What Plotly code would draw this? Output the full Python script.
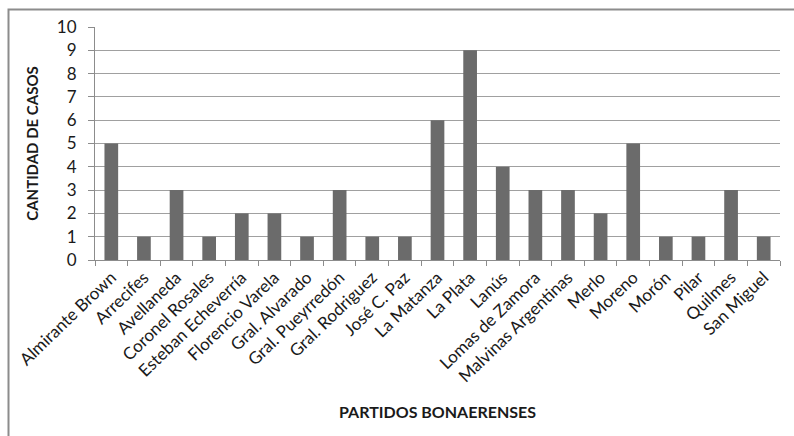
import plotly.graph_objects as go

partidos = [
    "Almirante Brown", "Arrecifes", "Avellaneda", "Coronel Rosales",
    "Esteban Echeverría", "Florencio Varela", "Gral. Alvarado",
    "Gral. Pueyrredón", "Gral. Rodriguez", "José C. Paz", "La Matanza",
    "La Plata", "Lanús", "Lomas de Zamora", "Malvinas Argentinas",
    "Merlo", "Moreno", "Morón", "Pilar", "Quilmes", "San Miguel",
]
casos = [5, 1, 3, 1, 2, 2, 1, 3, 1, 1, 6, 9, 4, 3, 3, 2, 5, 1, 1, 3, 1]
y_ticks = list(range(0, 11))

W, H = 794, 436
L, R, T, B = 95, 14, 27, 176
pw, ph = W - L - R, H - T - B

font = "Lato, 'Open Sans', sans-serif"

fig = go.Figure(go.Bar(
    x=partidos, y=casos,
    marker=dict(color="#6b6b6b", line=dict(width=0)),
))

fig.update_layout(
    width=W, height=H,
    margin=dict(l=L, r=R, t=T, b=B),
    paper_bgcolor="white", plot_bgcolor="white",
    bargap=0.58,
    showlegend=False,
    font=dict(family=font, size=15, color="#1a1a1a"),
    xaxis=dict(
        tickangle=-44,
        tickfont=dict(size=17),
        ticks="outside", ticklen=5, tickcolor="#8c8c8c",
        tickson="boundaries",
        showline=True, linecolor="#8c8c8c", linewidth=1,
        showgrid=False,
        title=dict(text="<b>PARTIDOS BONAERENSES</b>", font=dict(size=16), standoff=21),
    ),
    yaxis=dict(
        range=[0, 10], tickvals=y_ticks,
        ticks="outside", ticklen=6, tickcolor="#8c8c8c",
        tickfont=dict(size=17),
        ticklabelstandoff=8,
        showline=True, linecolor="#8c8c8c", linewidth=1,
        showgrid=True, gridcolor="#a0a0a0", gridwidth=1,
        zeroline=False,
        title=dict(text="<b>CANTIDAD DE CASOS</b>", font=dict(size=15), standoff=14),
    ),
)

# Chart-area frame (extends past the right and bottom edges of the page)
fig.add_shape(
    type="rect", xref="paper", yref="paper", layer="below",
    x0=(8.5 - L) / pw, x1=(W + 10 - L) / pw,
    y0=(H - B - (H + 10)) / ph, y1=1 + (T - 9.5) / ph,
    line=dict(color="#8c8c8c", width=2), fillcolor="rgba(0,0,0,0)",
)

fig.write_html("out.html")
